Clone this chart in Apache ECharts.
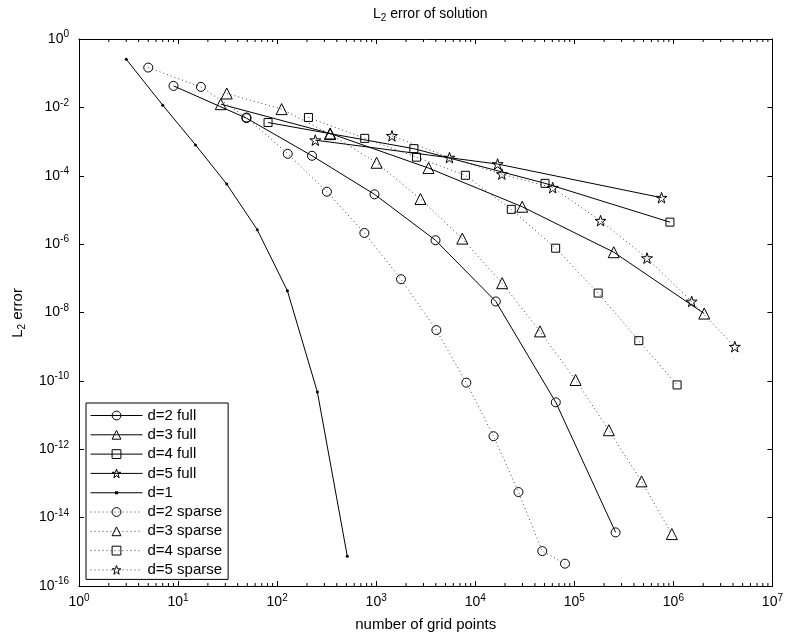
<!DOCTYPE html>
<html>
<head>
<meta charset="utf-8">
<script src="https://cdn.jsdelivr.net/npm/echarts@6.0.0/dist/echarts.min.js"></script>
<style>
  html, body { margin: 0; padding: 0; background: #fff; }
  #chart { width: 786px; height: 637px; }
</style>
</head>
<body>
<div id="chart"></div>
<script>
// grid points (x) and L2 error (y) for each run
const d1X = [3, 7, 15, 31, 63, 127, 255, 511];
const d1Y = [0.255, 0.0116, 8.0e-4, 5.7e-5, 2.65e-6, 4.3e-8, 4.7e-11, 7.4e-16];

const d2FullX = [9, 49, 225, 961, 3969, 16129, 65025, 261121];
const d2FullY = [0.0425, 4.84e-3, 3.84e-4, 2.86e-5, 1.3e-6, 2.1e-8, 2.36e-11, 3.7e-15];

const d3FullX = [27, 343, 3375, 29791, 250047, 2048383];
const d3FullY = [0.0124, 1.73e-3, 1.68e-4, 1.24e-5, 5.8e-7, 9.3e-9];

const d4FullX = [81, 2401, 50625, 923521];
const d4FullY = [3.6e-3, 6.2e-4, 6.0e-5, 4.4e-6];

const d5FullX = [243, 16807, 759375];
const d5FullY = [1.1e-3, 2.2e-4, 2.28e-5];

const d2SparseX = [5, 17, 49, 128, 318, 760, 1780, 4050, 8130, 15300, 27300, 47500, 80500];
const d2SparseY = [0.146, 0.0397, 5.07e-3, 4.39e-4, 3.41e-5, 2.12e-6, 9.4e-8, 3.06e-9, 8.85e-11, 2.4e-12, 5.6e-14, 1.05e-15, 4.5e-16];

const d3SparseX = [31, 111, 343, 1010, 2800, 7400, 18700, 45000, 103000, 223000, 477000, 965000];
const d3SparseY = [0.0255, 8.9e-3, 1.65e-3, 2.4e-4, 2.09e-5, 1.45e-6, 7.2e-8, 2.8e-9, 1.06e-10, 3.6e-12, 1.15e-13, 3.3e-15];

const d4SparseX = [207, 766, 2555, 7950, 23100, 64800, 174000, 448000, 1090000];
const d4SparseY = [5.07e-3, 1.24e-3, 3.5e-4, 1.03e-4, 1.04e-5, 7.6e-7, 3.7e-8, 1.5e-9, 7.6e-11];

const d5SparseX = [1442, 5490, 18570, 60500, 184000, 542000, 1530000, 4170000];
const d5SparseY = [1.47e-3, 3.4e-4, 1.12e-4, 4.47e-5, 4.85e-6, 3.9e-7, 2.1e-8, 1.0e-9];

const legendNames = ['d=2 full', 'd=3 full', 'd=4 full', 'd=5 full', 'd=1',
  'd=2 sparse', 'd=3 sparse', 'd=4 sparse', 'd=5 sparse'];

const xMin = 1, xMax = 1e7, yMin = 1e-16, yMax = 1;

// minor ticks of the log x axis (2..9 in each decade)
const minorX = [];
for (let k = 0; k < 7; k++) {
  for (let m = 2; m <= 9; m++) minorX.push(m * Math.pow(10, k));
}

const font = 'Liberation Sans, Helvetica, Arial, sans-serif';
const starPath = 'path://M50,2 L61,37 L98,37 L68,59 L79,95 L50,73 L21,95 L32,59 L2,37 L39,37 Z';
// legend icon for d=1: thin line with a tiny dot in the middle
const dotLineIcon = 'path://M0,0 L0,0 M52,11 L52,11 M0,5 L52,5 L52,6 L0,6 Z M24.5,4 L27.5,4 L27.5,7 L24.5,7 Z';

const zip = (xs, ys) => xs.map((x, i) => [x, ys[i]]);

const powLabel = v => {
  const e = Math.round(Math.log10(v));
  return '{b|10}{s|' + e + '}';
};
const labelRich = {
  b: { fontSize: 14, fontFamily: font, color: '#000' },
  s: { fontSize: 10, fontFamily: font, color: '#000', padding: [0, 0, 9, 0] }
};

const hollow = { color: 'rgba(0,0,0,0)', borderColor: '#000', borderWidth: 1 };
const dotFill = { color: '#000', borderColor: '#000', borderWidth: 0 };

function lineSeries(name, xs, ys, symbol, size, dotted) {
  return {
    name: name,
    type: 'line',
    data: zip(xs, ys),
    symbol: symbol,
    symbolSize: size,
    symbolKeepAspect: true,
    showAllSymbol: true,
    itemStyle: name === 'd=1' ? dotFill : hollow,
    lineStyle: dotted
      ? { color: '#444', width: 1, type: [1, 3] }
      : { color: '#000', width: 1 },
    emphasis: { disabled: true }
  };
}

const chart = echarts.init(document.getElementById('chart'), null, { renderer: 'canvas' });

const option = {
  animation: false,
  backgroundColor: '#fff',
  title: {
    text: 'L{sub|2} error of solution',
    left: 368,
    top: 0,
    textStyle: {
      fontSize: 14, fontWeight: 'normal', color: '#000', fontFamily: font,
      rich: {
        sub: { fontSize: 10, fontFamily: font, color: '#000', padding: [8, 0, 0, 0] }
      }
    }
  },
  graphic: [
    {
      // y axis title, reads bottom to top
      type: 'text',
      x: 18,
      y: 313,
      rotation: Math.PI / 2,
      style: {
        text: 'L{sub|2} error',
        fontSize: 15,
        fontFamily: font,
        fill: '#000',
        align: 'center',
        verticalAlign: 'middle',
        rich: { sub: { fontSize: 10, fontFamily: font, fill: '#000', padding: [8, 0, 0, 0] } }
      }
    }
  ],
  grid: { left: 79, right: 11, top: 39, bottom: 51 },
  legend: {
    data: legendNames.map(n => (n === 'd=1'
      ? { name: n, icon: dotLineIcon, itemStyle: dotFill }
      : { name: n, itemStyle: hollow })),
    orient: 'vertical',
    left: 86,
    top: 403,
    itemWidth: 52,
    itemHeight: 11,
    itemGap: 4.3,
    padding: [5, 6, 2, 4],
    borderColor: '#000',
    borderWidth: 1,
    backgroundColor: '#fff',
    lineStyle: { width: 1 },
    textStyle: { fontSize: 15, fontFamily: font, color: '#000', lineHeight: 15 }
  },
  xAxis: [
    {
      type: 'log', logBase: 10, min: xMin, max: xMax,
      name: 'number of grid points', nameLocation: 'middle', nameGap: 31,
      nameTextStyle: { fontSize: 15, fontFamily: font, color: '#000' },
      axisLine: { onZero: false, lineStyle: { color: '#000', width: 1 } },
      axisTick: { inside: true, length: 5, lineStyle: { color: '#000' } },
      axisLabel: { formatter: powLabel, rich: labelRich, margin: 7 },
      splitLine: { show: false }
    },
    {
      type: 'log', logBase: 10, min: xMin, max: xMax, position: 'top',
      axisLine: { onZero: false, lineStyle: { color: '#000', width: 1 } },
      axisTick: { inside: true, length: 5, lineStyle: { color: '#000' } },
      axisLabel: { show: false },
      splitLine: { show: false }
    }
  ],
  yAxis: [
    {
      type: 'log', logBase: 10, min: yMin, max: yMax, interval: 2,
      axisLine: { onZero: false, lineStyle: { color: '#000', width: 1 } },
      axisTick: { inside: true, length: 5, lineStyle: { color: '#000' } },
      axisLabel: { formatter: powLabel, rich: labelRich, margin: 10 },
      splitLine: { show: false }
    },
    {
      type: 'log', logBase: 10, min: yMin, max: yMax, interval: 2, position: 'right',
      axisLine: { onZero: false, lineStyle: { color: '#000', width: 1 } },
      axisTick: { inside: true, length: 5, lineStyle: { color: '#000' } },
      axisLabel: { show: false },
      splitLine: { show: false }
    }
  ],
  series: [
    lineSeries('d=2 full', d2FullX, d2FullY, 'circle', 9, false),
    lineSeries('d=3 full', d3FullX, d3FullY, 'triangle', 11, false),
    lineSeries('d=4 full', d4FullX, d4FullY, 'rect', 8, false),
    lineSeries('d=5 full', d5FullX, d5FullY, starPath, 11, false),
    lineSeries('d=1', d1X, d1Y, 'circle', 3, false),
    lineSeries('d=2 sparse', d2SparseX, d2SparseY, 'circle', 9, true),
    lineSeries('d=3 sparse', d3SparseX, d3SparseY, 'triangle', 11, true),
    lineSeries('d=4 sparse', d4SparseX, d4SparseY, 'rect', 8, true),
    lineSeries('d=5 sparse', d5SparseX, d5SparseY, starPath, 11, true),
    {
      // minor ticks on bottom and top x axes
      type: 'custom',
      silent: true,
      data: minorX.map(v => [v, yMin]),
      renderItem: function (params, api) {
        const v = api.value(0);
        const b = api.coord([v, yMin]);
        const t = api.coord([v, yMax]);
        const st = { stroke: '#000', lineWidth: 1 };
        return {
          type: 'group',
          children: [
            { type: 'line', shape: { x1: b[0], y1: b[1], x2: b[0], y2: b[1] - 3 }, style: st },
            { type: 'line', shape: { x1: t[0], y1: t[1], x2: t[0], y2: t[1] + 3 }, style: st }
          ]
        };
      }
    }
  ]
};

chart.setOption(option);
window.addEventListener('resize', () => chart.resize());
</script>
</body>
</html>
